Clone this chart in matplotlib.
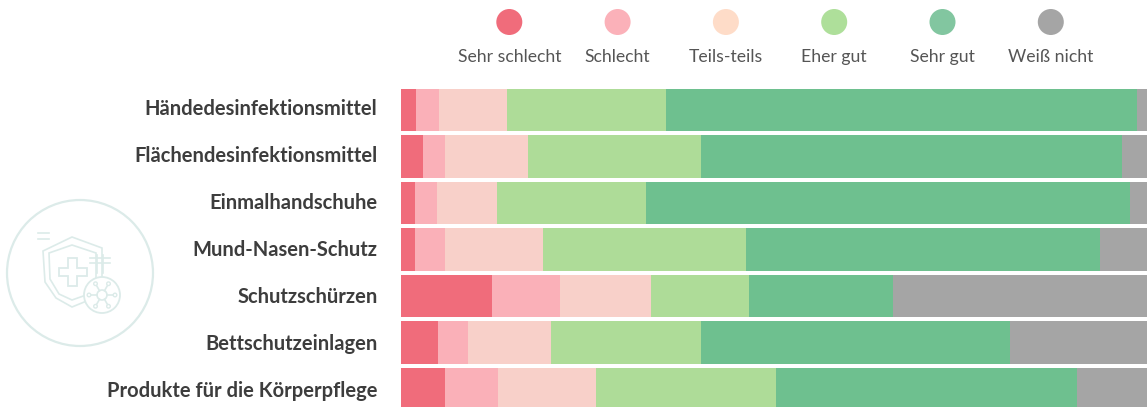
import matplotlib
matplotlib.use("Agg")
import matplotlib.pyplot as plt
import numpy as np
from matplotlib.patches import Circle, Polygon
from matplotlib.transforms import ScaledTranslation

products = ["Händedesinfektionsmittel", "Flächendesinfektionsmittel", "Einmalhandschuhe",
            "Mund-Nasen-Schutz", "Schutzschürzen", "Bettschutzeinlagen",
            "Produkte für die Körperpflege"]
answers = ["Sehr schlecht", "Schlecht", "Teils-teils", "Eher gut", "Sehr gut", "Weiß nicht"]

sehr_schlecht = [2.0, 2.9, 1.9, 1.9, 12.2, 5.0, 5.9]
schlecht = [3.1, 3.0, 2.9, 4.0, 9.1, 4.0, 7.1]
teils = [9.1, 11.1, 8.1, 13.1, 12.2, 11.1, 13.1]
eher_gut = [21.3, 23.2, 19.9, 27.2, 13.1, 20.1, 24.2]
sehr_gut = [63.1, 56.4, 64.9, 47.5, 19.3, 41.4, 40.3]
weiss_nicht = [1.4, 3.4, 2.3, 6.3, 34.1, 18.4, 9.4]

bar_colors = ["#f06c7b", "#fab0b8", "#f8d0c9", "#aedc98", "#6ec08f", "#a5a5a5"]
legend_colors = ["#f06c7b", "#fbb1b9", "#fedcc8", "#aedf9a", "#82c6a0", "#a5a5a5"]

plt.rcParams['font.family'] = ['Lato', 'DejaVu Sans']
W, H = 1147, 407
fig = plt.figure(figsize=(W / 100, H / 100), dpi=100)

# bars
ax = fig.add_axes([401 / W, 0, 1 - 401 / W, 320 / H])
left = np.zeros(len(products))
for vals, c in zip([sehr_schlecht, schlecht, teils, eher_gut, sehr_gut, weiss_nicht], bar_colors):
    ax.barh(range(len(products)), vals, left=left, height=0.905, color=c, linewidth=0)
    left = left + np.array(vals)
ax.set_xlim(0, 100)
ax.set_ylim(6.387, -0.495)
ax.set_yticks(range(len(products)))
ax.set_yticklabels(products, fontsize=14.5, fontweight='bold', color="#3d3d3d")
ax.tick_params(axis='y', length=0, pad=17)
# labels sit a little off the bar centres, drifting down the chart
for i, lab in enumerate(ax.get_yticklabels()):
    shift = ScaledTranslation(0, (2.8 - 0.5 * i) / 100, fig.dpi_scale_trans)
    lab.set_transform(lab.get_transform() + shift)
ax.set_xticks([])
for s in ax.spines.values():
    s.set_visible(False)

# overlay in pixels for legend and icon
ov = fig.add_axes([0, 0, 1, 1], zorder=-1)
ov.set_xlim(0, W)
ov.set_ylim(H, 0)
ov.axis('off')
for i, (name, c) in enumerate(zip(answers, legend_colors)):
    x = 509.3 + i * 108.3
    ov.add_patch(Circle((x, 22), 13, color=c, lw=0))
    ov.text(x, 57, name, ha='center', va='center', fontsize=12.7, color="#555555")

# shield icon
ic = "#dcebe9"
ov.add_patch(Circle((80, 273), 73, fill=False, ec=ic, lw=1.6))
ov.add_patch(Polygon([(43, 251), (72, 237), (102, 248), (102, 285), (94, 298), (72, 307),
                      (56, 298), (45, 282)], fill=False, ec=ic, lw=1.2))
ov.add_patch(Polygon([(49, 253), (72, 245), (96, 253), (96, 283), (89, 294), (72, 300),
                      (59, 294), (50, 279)], fill=False, ec=ic, lw=1.2))
ov.add_patch(Polygon([(68, 258), (77, 258), (77, 268), (87, 268), (87, 276), (77, 276),
                      (77, 286), (68, 286), (68, 276), (59, 276), (59, 268), (68, 268)],
                     fill=False, ec=ic, lw=1.3))
ov.add_patch(Circle((102, 295), 18, fc='white', ec=ic, lw=1.3, zorder=3))
ov.add_patch(Circle((102, 295), 5, fill=False, ec=ic, lw=1.2, zorder=4))
for a in np.arange(0, 360, 60):
    dx, dy = np.cos(np.radians(a)), np.sin(np.radians(a))
    ov.plot([102 + 5 * dx, 102 + 12 * dx], [295 + 5 * dy, 295 + 12 * dy], color=ic, lw=1.2, zorder=4)
    ov.add_patch(Circle((102 + 13 * dx, 295 + 13 * dy), 1.8, fc='white', ec=ic, lw=1, zorder=4))
for y0 in (233, 239):
    ov.plot([38, 49], [y0, y0], color=ic, lw=1.2)
for y0 in (258, 263):
    ov.plot([90, 110], [y0, y0], color=ic, lw=1.2)
ov.plot([97, 97], [255, 273], color=ic, lw=1.2)
ov.plot([103, 103], [255, 273], color=ic, lw=1.2)

fig.savefig("out.png", dpi=100)
